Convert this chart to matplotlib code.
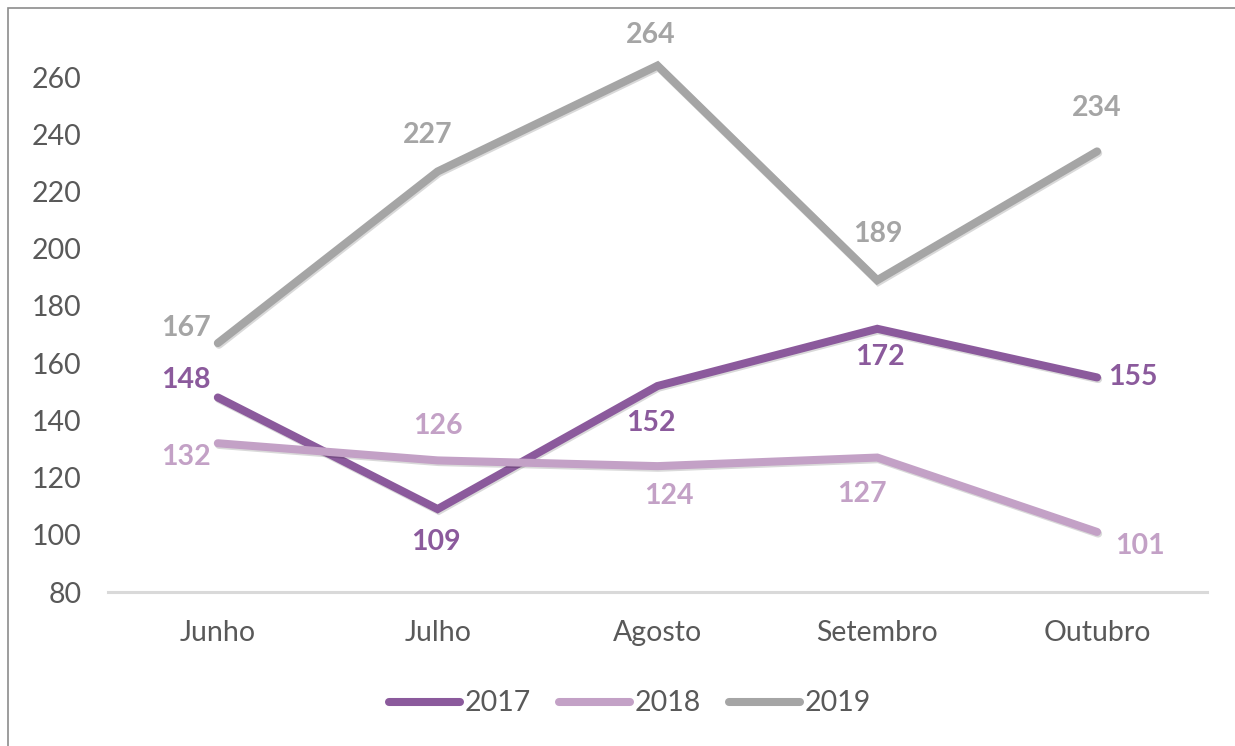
import matplotlib.pyplot as plt
import matplotlib.patheffects as pe
from matplotlib.lines import Line2D

# ── Data ──
months = ["Junho", "Julho", "Agosto", "Setembro", "Outubro"]
v2017 = [148, 109, 152, 172, 155]
v2018 = [132, 126, 124, 127, 101]
v2019 = [167, 227, 264, 189, 234]

# label offsets in pixels (dx, dy)
off2017 = [(-32, 17), (-2, -33), (-7, -37), (3, -28), (36, 0)]
off2018 = [(-32, -14), (0, 34), (11, -30), (-15, -36), (43, -14)]
off2019 = [(-32, 15), (-10, 36), (-7, 31), (1, 46), (0, 43)]

series = [
    ("2017", v2017, "#8B5A9C", off2017),
    ("2018", v2018, "#C3A1C6", off2018),
    ("2019", v2019, "#A5A5A5", off2019),
]

plt.rcParams["font.family"] = ["Lato", "DejaVu Sans"]
FS = 20.5

fig = plt.figure(figsize=(12.35, 7.46), dpi=100)
ax = fig.add_axes([0.0874, 0.2064, 0.8899, 0.7287])

x = list(range(len(months)))
shadow = [pe.SimpleLineShadow(offset=(0.8, -1.2), shadow_color="black", alpha=0.15),
          pe.Normal()]
for name, vals, col, offs in series:
    ax.plot(x, vals, color=col, lw=5.8, solid_capstyle="round",
            solid_joinstyle="miter", path_effects=shadow, label=name)
    for xi, v, (dx, dy) in zip(x, vals, offs):
        ax.annotate(str(v), (xi, v), xytext=(dx * 0.72, dy * 0.72),
                    textcoords="offset points", ha="center", va="center",
                    fontsize=FS, fontweight="bold", color=col,
                    annotation_clip=False)

ax.set_xlim(-0.5, 4.5)
ax.set_ylim(80, 270)
ax.set_yticks(range(80, 261, 20))
ax.set_xticks(x)
ax.set_xticklabels(months)
ax.tick_params(axis="both", length=0, labelsize=FS, labelcolor="#595959")
ax.tick_params(axis="y", pad=19)
ax.tick_params(axis="x", pad=20)
for s in ["top", "right", "left"]:
    ax.spines[s].set_visible(False)
ax.spines["bottom"].set_color("#D9D9D9")
ax.spines["bottom"].set_linewidth(2.2)

handles = [Line2D([0], [0], color=c, lw=5.8, solid_capstyle="round")
           for _, _, c, _ in series]
fig.legend(handles, [s[0] for s in series], loc="center",
           bbox_to_anchor=(0.51, 0.057), ncol=3, frameon=False,
           fontsize=FS, handlelength=2.5, handletextpad=0.15,
           columnspacing=1.0, labelcolor="#595959")

# chart border
fig.add_artist(plt.Rectangle((8 / 1235, -0.05), 1.2, 1 - 8 / 746 + 0.05,
                             transform=fig.transFigure, fill=False,
                             edgecolor="#8C8C8C", lw=1.2))

fig.savefig("out.png", dpi=100)
